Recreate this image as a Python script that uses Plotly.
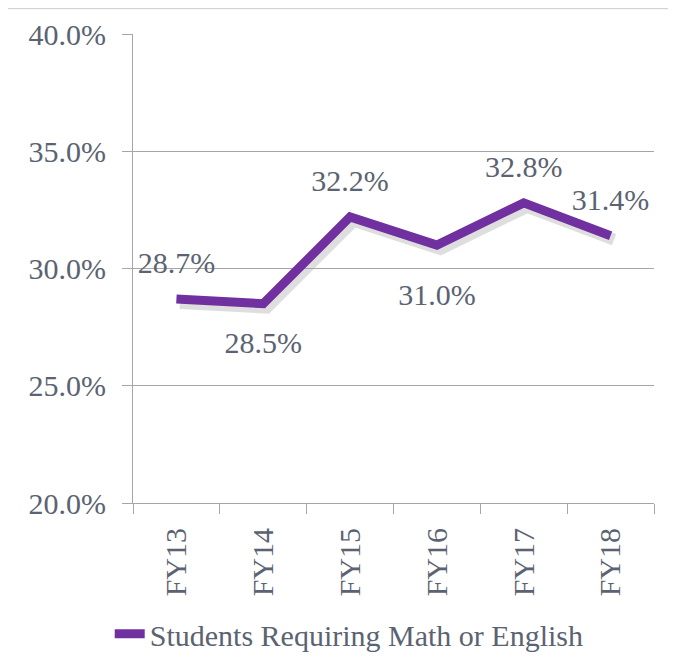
import plotly.graph_objects as go

categories = ["FY13", "FY14", "FY15", "FY16", "FY17", "FY18"]
values = [28.7, 28.5, 32.2, 31.0, 32.8, 31.4]
label_positions = ["top center", "bottom center", "top center", "bottom center", "top center", "top center"]
series_name = "Students Requiring Math or English"
y_ticks = [20, 25, 30, 35, 40]
y_tick_labels = ["20.0%", "25.0%", "30.0%", "35.0%", "40.0%"]

TEXT = "#5b6372"
GRID = "#a6a6a6"
PURPLE = "#7030a0"
FONT = "Liberation Serif, serif"
FS = 30

fig = go.Figure()

# soft drop shadow (same data, slightly offset axis ranges)
fig.add_trace(go.Scatter(
    x=categories, y=values, mode="lines", xaxis="x", yaxis="y",
    line=dict(color="rgba(0,0,0,0.13)", width=12), showlegend=False, hoverinfo="skip",
))

fig.add_trace(go.Scatter(
    x=categories, y=values, mode="lines+markers+text", xaxis="x2", yaxis="y2",
    name=series_name,
    line=dict(color=PURPLE, width=9),
    marker=dict(size=[28, 42, 28, 58, 28, 28], color="rgba(0,0,0,0)",
                line=dict(width=0, color="rgba(0,0,0,0)")),
    text=[f"{v:.1f}%" for v in values],
    textposition=label_positions,
    textfont=dict(family=FONT, size=FS, color=TEXT),
))

# page body has an 8px margin in the browser; margins compensate for it
fig.update_layout(
    width=676, height=672,
    margin=dict(l=125, r=30, t=26, b=177, autoexpand=False),
    paper_bgcolor="white", plot_bgcolor="rgba(0,0,0,0)",
    font=dict(family=FONT, size=FS, color=TEXT),
    showlegend=True,
    legend=dict(orientation="h", x=0.415, xanchor="center", y=-0.279, yanchor="middle",
                font=dict(family=FONT, size=FS, color=TEXT), itemwidth=30),
    xaxis=dict(visible=False, range=[-0.54, 5.46], domain=[0, 1]),
    yaxis=dict(visible=False, range=[20.17, 40.17], domain=[0, 1]),
    xaxis2=dict(
        anchor="y2", domain=[0, 1], range=[-0.5, 5.5], type="category",
        categoryorder="array", categoryarray=categories, automargin=False,
        showline=True, linecolor=GRID, linewidth=1,
        ticks="outside", ticklen=10, tickcolor=GRID, tickson="boundaries",
        tickangle=-90, showgrid=False, ticklabelstandoff=12,
        tickfont=dict(family=FONT, size=FS, color=TEXT),
    ),
    yaxis2=dict(
        anchor="x2", domain=[0, 1], range=[20, 40], automargin=False,
        tickvals=y_ticks, ticktext=y_tick_labels,
        showline=True, linecolor=GRID, linewidth=1,
        ticks="outside", ticklen=10, tickcolor=GRID, ticklabelstandoff=10,
        showgrid=True, gridcolor=GRID, gridwidth=1, zeroline=False,
        tickfont=dict(family=FONT, size=FS, color=TEXT),
    ),
    shapes=[dict(type="line", xref="paper", yref="paper", x0=-0.24, x1=1.06, y0=1.054, y1=1.054,
                 line=dict(color="#cccccc", width=1))],
)

fig.write_html("out.html")
